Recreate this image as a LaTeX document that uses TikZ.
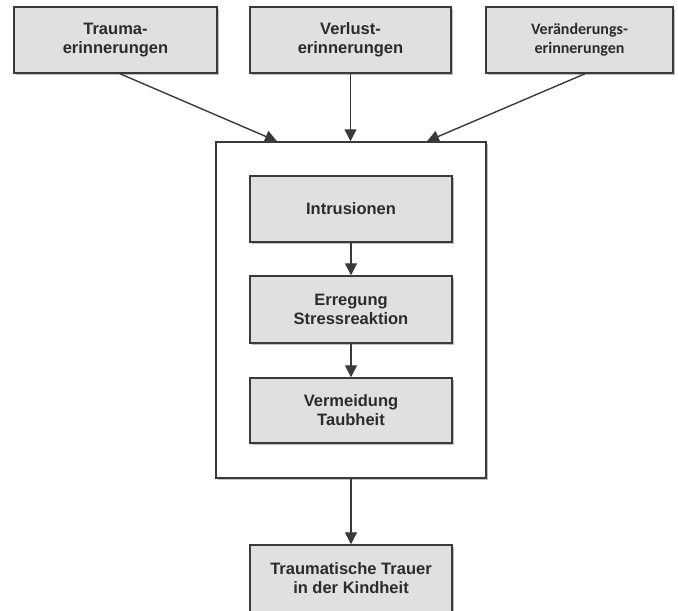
\documentclass[tikz,border=0pt]{standalone}
\usepackage{fontspec}
\setmainfont{Liberation Sans}
\newfontfamily\calfont{Carlito}
\usetikzlibrary{arrows.meta,shadows}
\definecolor{boxfill}{HTML}{E0E0E0}
\definecolor{boxline}{HTML}{3A3A3A}
\definecolor{txt}{HTML}{2B2B2B}
\tikzset{
  gbox/.style={draw=boxline, line width=1.5pt, fill=boxfill, inner sep=0pt,
    align=center, text=txt, font=\fontsize{16.5}{19}\selectfont\bfseries,
    drop shadow={shadow xshift=1.5pt, shadow yshift=-2pt, opacity=0.25, fill=black}},
  frame/.style={draw=boxline, line width=1.5pt, fill=white, inner sep=0pt,
    drop shadow={shadow xshift=1.5pt, shadow yshift=-2pt, opacity=0.25, fill=black}},
  arr/.style={draw=boxline, line width=1.4pt, -{Triangle[width=12pt,length=12pt]}},
}
\begin{document}
\begin{tikzpicture}[x=1pt,y=-1pt]
\useasboundingbox (0,0) rectangle (678,611);
\node[gbox, minimum width=203pt, minimum height=66pt] (t1) at (115.5,40) {Trauma-\\erinnerungen};
\node[gbox, minimum width=201pt, minimum height=66pt] (t2) at (350.5,40) {Verlust-\\erinnerungen};
\node[gbox, minimum width=187pt, minimum height=66pt, font=\fontsize{16}{19}\selectfont\calfont\bfseries] (t3) at (579.5,40) {Veränderungs-\\erinnerungen};
\node[frame, minimum width=270pt, minimum height=336pt] (big) at (351,310) {};
\node[gbox, minimum width=202pt, minimum height=66pt] (a) at (351,209) {Intrusionen};
\node[gbox, minimum width=202pt, minimum height=67pt] (b) at (351,309.5) {Erregung\\Stressreaktion};
\node[gbox, minimum width=202pt, minimum height=65pt] (c) at (351,410.5) {Vermeidung\\Taubheit};
\node[gbox, minimum width=202pt, minimum height=67pt] (d) at (351,578.5) {Traumatische Trauer\\in der Kindheit};
\coordinate (s1) at ([xshift=4.5pt]t1.south);
\coordinate (s3) at ([xshift=5.5pt]t3.south);
\coordinate (e1) at ([xshift=-74pt]big.north);
\coordinate (e3) at ([xshift=76pt]big.north);
\draw[arr] (s1) -- (e1);
\draw[arr] (t2.south) -- (t2.south |- big.north);
\draw[arr] (s3) -- (e3);
\draw[arr] (a) -- (b);
\draw[arr] (b) -- (c);
\draw[arr] (big) -- (d);
\end{tikzpicture}
\end{document}
